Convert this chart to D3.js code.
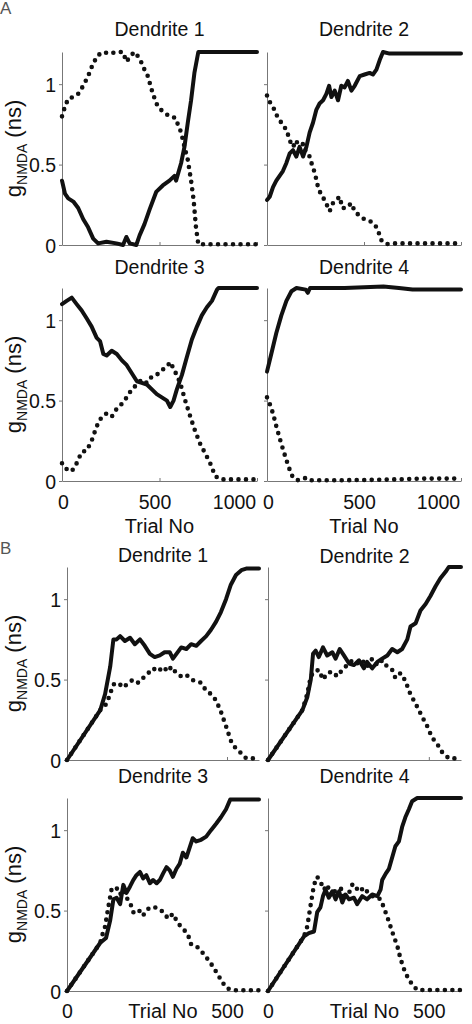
<!DOCTYPE html>
<html>
<head>
<meta charset="utf-8">
<script src="https://cdn.jsdelivr.net/npm/d3@7"></script>
<style>
  body { margin: 0; background: #fff; }
  svg { display: block; font-family: "Liberation Sans", Arial, sans-serif; }
</style>
</head>
<body>
<svg id="fig" width="472" height="1024"></svg>
<script>
// ---- data (trial no / g_NMDA in nS) ----
const yTicks = [0, 0.5, 1];
const xTicksA = [0, 500, 1000];
const xTicksB = [0, 500];
const titles = ["Dendrite 1", "Dendrite 2", "Dendrite 3", "Dendrite 4"];

// panel A
const a1SolidT = [0,15,32,58,83,109,134,160,185,228,279,313,330,347,381,398,423,449,483,517,551,577,585,611,628,645,662,679,699,1000];
const a1SolidV = [0.40,0.32,0.29,0.27,0.23,0.16,0.11,0.04,0.01,0.02,0.01,0,0.05,0.01,0,0.06,0.13,0.22,0.33,0.37,0.40,0.43,0.40,0.51,0.61,0.76,0.90,1.07,1.20,1.20];
const a1DotT = [0,15,32,58,83,109,134,160,185,211,245,279,313,330,355,372,398,423,440,466,491,517,551,582,594,611,628,645,662,675,687,699,1000];
const a1DotV = [0.80,0.86,0.91,0.92,0.94,0.99,1.05,1.13,1.18,1.20,1.19,1.20,1.20,1.14,1.18,1.20,1.16,1.09,1.05,0.94,0.86,0.83,0.80,0.79,0.75,0.70,0.61,0.53,0.40,0.28,0.11,0.005,0.005];

const a2SolidT = [0,14,31,48,65,82,100,117,134,151,168,186,203,220,237,254,271,289,306,320,332,349,366,383,400,417,435,452,478,503,529,546,564,581,598,632,701,804,1000];
const a2SolidV = [0.28,0.30,0.36,0.40,0.43,0.46,0.51,0.57,0.59,0.55,0.61,0.55,0.61,0.70,0.76,0.84,0.88,0.90,0.94,0.99,0.92,0.96,0.90,0.99,0.98,1.02,0.96,0.99,1.05,1.06,1.07,1.06,1.09,1.15,1.20,1.19,1.19,1.19,1.19];
const a2DotT = [0,14,31,48,65,82,100,117,134,151,168,186,203,220,234,246,263,280,297,323,340,357,375,388,409,435,452,478,503,529,555,572,589,615,649,1000];
const a2DotV = [0.93,0.89,0.86,0.81,0.78,0.74,0.72,0.65,0.61,0.65,0.59,0.63,0.57,0.55,0.49,0.45,0.36,0.31,0.28,0.21,0.26,0.28,0.30,0.23,0.23,0.26,0.21,0.18,0.16,0.15,0.13,0.09,0.03,0.005,0.01,0.01];

const a3SolidT = [0,24,50,75,101,127,152,178,195,212,229,255,281,307,332,358,384,409,435,461,486,512,538,555,572,589,615,640,666,692,717,743,769,795,803,1000];
const a3SolidV = [1.10,1.12,1.14,1.10,1.06,1.01,0.96,0.89,0.87,0.79,0.78,0.81,0.79,0.75,0.72,0.67,0.62,0.61,0.60,0.57,0.54,0.52,0.50,0.46,0.50,0.57,0.66,0.77,0.88,0.96,1.03,1.08,1.12,1.19,1.20,1.20];
const a3DotT = [0,15,50,75,101,127,152,178,204,229,255,281,307,332,358,384,409,435,461,486,512,538,555,580,606,632,658,683,709,735,760,786,812,1000];
const a3DotV = [0.11,0.08,0.06,0.11,0.18,0.19,0.25,0.34,0.40,0.42,0.40,0.45,0.48,0.52,0.57,0.60,0.63,0.61,0.65,0.66,0.69,0.71,0.74,0.68,0.61,0.50,0.40,0.31,0.23,0.17,0.11,0.03,0.01,0.01];

const a4SolidT = [0,22,48,74,100,126,152,200,210,222,400,600,680,750,1000];
const a4SolidV = [0.68,0.79,0.92,1.03,1.12,1.18,1.20,1.19,1.17,1.20,1.20,1.21,1.20,1.19,1.19];
const a4DotT = [0,14,31,48,74,100,117,134,160,203,220,400,600,800,1000];
const a4DotV = [0.52,0.48,0.42,0.34,0.23,0.13,0.07,0.02,0.005,0.02,0.005,0.005,0.008,0.015,0.015];

// panel B
const b1SolidT = [0,104,119,135,145,155,166,181,197,212,228,243,259,274,290,305,321,331,342,357,373,388,404,419,435,450,466,481,497,512,528,545,560,600];
const b1SolidV = [0,0.31,0.41,0.58,0.75,0.75,0.77,0.74,0.76,0.72,0.75,0.71,0.66,0.64,0.65,0.67,0.67,0.63,0.66,0.70,0.69,0.72,0.71,0.74,0.77,0.81,0.86,0.92,1.00,1.09,1.15,1.18,1.19,1.19];
const b1DotT = [0,104,124,145,160,176,192,207,223,238,254,269,285,300,316,326,342,357,373,388,404,419,435,450,466,481,497,512,528,546,560,600];
const b1DotV = [0,0.31,0.35,0.47,0.48,0.45,0.48,0.50,0.48,0.51,0.54,0.57,0.55,0.58,0.55,0.58,0.54,0.52,0.53,0.50,0.49,0.48,0.43,0.41,0.37,0.30,0.21,0.12,0.07,0.04,0.01,0.01];

const b2SolidT = [0,107,122,133,140,148,158,171,184,200,210,223,236,252,267,283,298,308,324,340,355,371,386,402,417,433,443,459,474,490,505,521,536,552,562,600];
const b2SolidV = [0,0.31,0.39,0.50,0.66,0.68,0.64,0.70,0.65,0.67,0.63,0.69,0.65,0.60,0.59,0.62,0.57,0.61,0.57,0.61,0.63,0.65,0.69,0.67,0.69,0.75,0.83,0.85,0.93,0.97,1.02,1.08,1.13,1.17,1.20,1.20];
const b2DotT = [0,107,122,133,143,158,171,184,200,215,231,246,262,277,293,308,324,340,355,371,386,396,412,428,438,448,464,479,495,510,526,541,562,600];
const b2DotV = [0,0.31,0.41,0.52,0.55,0.56,0.50,0.54,0.55,0.52,0.56,0.59,0.62,0.60,0.62,0.58,0.63,0.59,0.62,0.58,0.56,0.51,0.54,0.49,0.43,0.39,0.33,0.27,0.21,0.14,0.10,0.05,0.01,0.01];

const b3SolidT = [0,104,122,135,145,155,166,176,186,197,207,217,228,238,248,259,269,280,290,300,311,321,331,342,352,362,373,383,393,404,419,435,450,466,481,497,510,600];
const b3SolidV = [0,0.30,0.33,0.44,0.57,0.58,0.54,0.66,0.61,0.65,0.69,0.72,0.74,0.70,0.72,0.67,0.69,0.67,0.69,0.73,0.77,0.75,0.71,0.76,0.79,0.86,0.83,0.89,0.95,0.93,0.94,0.96,1.00,1.04,1.08,1.13,1.19,1.19];
const b3DotT = [0,104,109,119,129,140,155,166,176,186,197,207,217,228,238,248,259,274,290,305,316,331,347,362,378,388,404,419,435,450,466,481,497,518,600];
const b3DotV = [0,0.30,0.34,0.40,0.52,0.64,0.64,0.60,0.63,0.58,0.55,0.49,0.48,0.50,0.47,0.50,0.52,0.52,0.51,0.48,0.45,0.48,0.42,0.39,0.35,0.29,0.28,0.25,0.21,0.17,0.12,0.07,0.02,0.005,0.005];

const b4SolidT = [0,112,127,143,153,163,171,179,189,200,210,221,231,241,252,267,277,293,308,324,340,350,355,366,376,386,396,407,417,427,438,448,464,600];
const b4SolidV = [0,0.34,0.36,0.37,0.49,0.52,0.59,0.63,0.58,0.62,0.57,0.62,0.55,0.60,0.57,0.58,0.54,0.59,0.57,0.60,0.59,0.63,0.69,0.73,0.76,0.83,0.90,0.93,1.02,1.08,1.13,1.18,1.20,1.20];
const b4DotT = [0,112,122,133,143,153,163,174,184,195,205,215,226,236,252,262,272,288,298,308,324,340,350,360,371,381,391,402,412,422,433,448,464,600];
const b4DotV = [0,0.34,0.40,0.54,0.66,0.71,0.68,0.63,0.66,0.60,0.63,0.59,0.64,0.59,0.61,0.66,0.63,0.65,0.61,0.62,0.59,0.58,0.57,0.52,0.46,0.40,0.34,0.28,0.20,0.14,0.09,0.04,0.006,0.006];

// ---- layout ----
const font = '"Liberation Sans", Arial, sans-serif';
const svg = d3.select("#fig");

const panels = [
  {title: titles[0], s: [a1SolidT, a1SolidV], d: [a1DotT, a1DotV], left: 62,  right: 257, top: 52,  bottom: 245, xmax: 1000, ticks: xTicksA, yLab: true,  xLab: false, titleY: 36},
  {title: titles[1], s: [a2SolidT, a2SolidV], d: [a2DotT, a2DotV], left: 267, right: 461, top: 52,  bottom: 245, xmax: 1000, ticks: xTicksA, yLab: false, xLab: false, titleY: 36},
  {title: titles[2], s: [a3SolidT, a3SolidV], d: [a3DotT, a3DotV], left: 62,  right: 257, top: 288, bottom: 481, xmax: 1000, ticks: xTicksA, yLab: true,  xLab: true,  titleY: 274},
  {title: titles[3], s: [a4SolidT, a4SolidV], d: [a4DotT, a4DotV], left: 267, right: 461, top: 288, bottom: 481, xmax: 1000, ticks: xTicksA, yLab: false, xLab: true,  titleY: 274},
  {title: titles[0], s: [b1SolidT, b1SolidV], d: [b1DotT, b1DotV], left: 67,  right: 259, top: 567, bottom: 760, xmax: 600,  ticks: xTicksB, yLab: true,  xLab: false, titleY: 562},
  {title: titles[1], s: [b2SolidT, b2SolidV], d: [b2DotT, b2DotV], left: 268, right: 461, top: 567, bottom: 760, xmax: 600,  ticks: xTicksB, yLab: false, xLab: false, titleY: 563},
  {title: titles[2], s: [b3SolidT, b3SolidV], d: [b3DotT, b3DotV], left: 67,  right: 259, top: 798, bottom: 991, xmax: 600,  ticks: xTicksB, yLab: true,  xLab: true,  titleY: 783},
  {title: titles[3], s: [b4SolidT, b4SolidV], d: [b4DotT, b4DotV], left: 268, right: 461, top: 798, bottom: 991, xmax: 600,  ticks: xTicksB, yLab: false, xLab: true,  titleY: 783}
];

// panel letters, hugging the left edge
svg.append("text").attr("x", 0).attr("y", 14).attr("fill", "#555")
  .style("font-size", "17px").style("font-family", font).text("A");
svg.append("text").attr("x", 0).attr("y", 554).attr("fill", "#555")
  .style("font-size", "17px").style("font-family", font).text("B");

panels.forEach((p, idx) => {
  const x = d3.scaleLinear().domain([0, p.xmax]).range([p.left, p.right]);
  const y = d3.scaleLinear().domain([0, 1.2]).range([p.bottom, p.top]);
  const isA = idx < 4;

  // y axis
  const gy = svg.append("g").attr("transform", `translate(${p.left},0)`)
    .call(d3.axisLeft(y).tickValues(yTicks).tickSize(3).tickSizeOuter(0)
      .tickFormat(d => p.yLab ? d3.format("")(d) : ""));
  gy.select(".domain").attr("stroke", "#777");
  gy.selectAll(".tick line").attr("stroke", "#777");
  gy.selectAll(".tick text").attr("fill", "#111").attr("dy", "0.36em")
    .style("font-size", "19.5px").style("font-family", font);

  // x axis (ticks point inwards)
  const gx = svg.append("g").attr("transform", `translate(0,${p.bottom})`)
    .call(d3.axisBottom(x).tickValues(p.ticks).tickSize(-3).tickSizeOuter(0)
      .tickFormat(d => p.xLab ? d : ""));
  gx.select(".domain").attr("stroke", "#777");
  gx.selectAll(".tick line").attr("stroke", "#777");
  // labels in the original sit a bit left of the 500/1000 ticks in panel A
  const shiftA = [1, -5, -23];
  gx.selectAll(".tick text").attr("fill", "#111")
    .attr("y", isA ? 28 : 27).attr("dy", 0)
    .attr("dx", (d, i) => isA ? shiftA[i] : 0)
    .style("font-size", "19.5px").style("font-family", font);

  if (p.xLab) {
    svg.append("text")
      .attr("x", (p.left + p.right) / 2)
      .attr("y", isA ? p.bottom + 52 : p.bottom + 27)
      .attr("text-anchor", "middle").attr("fill", "#111")
      .style("font-size", "20px").style("font-family", font)
      .text("Trial No");
  }

  // title
  svg.append("text")
    .attr("x", (p.left + p.right) / 2).attr("y", p.titleY)
    .attr("text-anchor", "middle").attr("fill", "#111")
    .style("font-size", "19.5px").style("font-family", font)
    .text(p.title);

  // y label g_NMDA (ns)
  if (p.yLab) {
    const cy = (p.top + p.bottom) / 2;
    const lab = svg.append("text")
      .attr("transform", `translate(21,${cy}) rotate(-90)`)
      .attr("text-anchor", "middle").attr("fill", "#111")
      .style("font-size", "22px").style("font-family", font);
    lab.append("tspan").text("g");
    lab.append("tspan").attr("dy", 6).style("font-size", "14px").text("NMDA");
    lab.append("tspan").attr("dy", -6).text(" (ns)");
  }

  const line = d3.line().x(d => x(d[0])).y(d => y(d[1]));
  const dots = d3.zip(p.d[0], p.d[1]);
  const solid = d3.zip(p.s[0], p.s[1]);

  svg.append("path").datum(dots).attr("d", line)
    .attr("fill", "none").attr("stroke", "#111").attr("stroke-width", 4.6)
    .attr("stroke-linecap", "round").attr("stroke-dasharray", "0 7.5");

  svg.append("path").datum(solid).attr("d", line)
    .attr("fill", "none").attr("stroke", "#111").attr("stroke-width", 4)
    .attr("stroke-linejoin", "round").attr("stroke-linecap", "round");
});
</script>
</body>
</html>
